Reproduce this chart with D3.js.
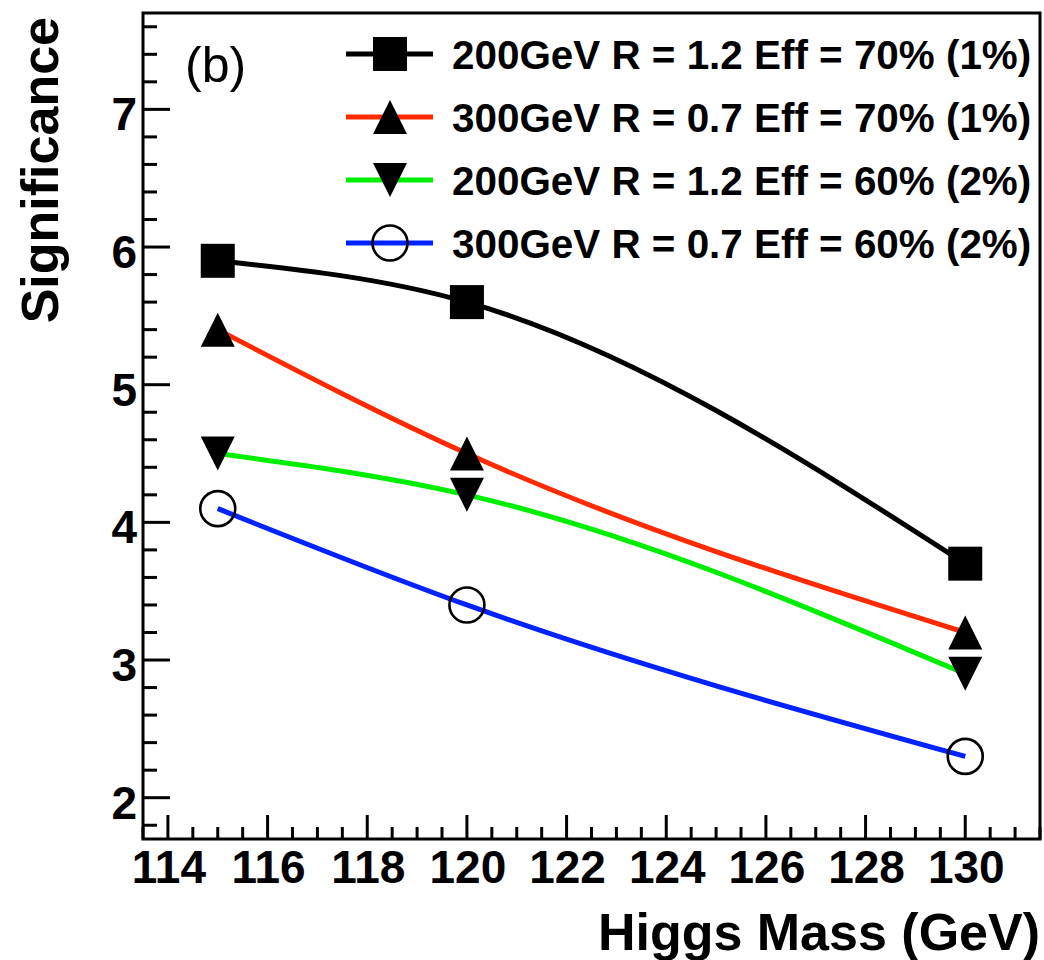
<!DOCTYPE html>
<html>
<head>
<meta charset="utf-8">
<script src="https://cdn.jsdelivr.net/npm/d3@7"></script>
<style>
  html, body { margin: 0; padding: 0; background: #fff; }
  svg { display: block; }
  text { font-family: "Liberation Sans", Arial, Helvetica, sans-serif; }
</style>
</head>
<body>
<div id="chart"></div>
<script>
// ---------------- data ----------------
const higgsMass = [115, 120, 130];
const sig200R12Eff70 = [5.9, 5.6, 3.7];
const sig300R07Eff70 = [5.4, 4.5, 3.2];
const sig200R12Eff60 = [4.5, 4.2, 2.9];
const sig300R07Eff60 = [4.1, 3.4, 2.3];

const seriesLabels = [
  "200GeV R = 1.2 Eff = 70% (1%)",
  "300GeV R = 0.7 Eff = 70% (1%)",
  "200GeV R = 1.2 Eff = 60% (2%)",
  "300GeV R = 0.7 Eff = 60% (2%)"
];
const seriesColors = ["#000000", "#ff2a00", "#00ee00", "#0022ff"];
const seriesMarkers = ["square", "triangleUp", "triangleDown", "openCircle"];
const seriesValues = [sig200R12Eff70, sig300R07Eff70, sig200R12Eff60, sig300R07Eff60];

const xMajorTicks = [114, 116, 118, 120, 122, 124, 126, 128, 130];
const yMajorTicks = [2, 3, 4, 5, 6, 7];
const xDomain = [113.5, 131.5];
const yDomain = [1.7, 7.7];
const xTitle = "Higgs Mass (GeV)";
const yTitle = "Significance";
const panelLabel = "(b)";

// ---------------- layout ----------------
const W = 1044, H = 960;
const frame = { left: 143, right: 1040, top: 13, bottom: 839 };

const svg = d3.select("#chart").append("svg")
  .attr("width", W).attr("height", H);

const x = d3.scaleLinear().domain(xDomain).range([frame.left, frame.right]);
const y = d3.scaleLinear().domain(yDomain).range([frame.bottom, frame.top]);

// minor ticks
const xMinor = d3.range(xDomain[0], xDomain[1] + 0.001, 0.5)
  .filter(v => Math.abs(v - Math.round(v / 2) * 2) > 1e-6);
const yMinor = d3.range(2, 7.7, 0.2).map(v => +v.toFixed(1))
  .concat([1.8])
  .filter(v => Math.abs(v - Math.round(v)) > 1e-6);

const axisG = svg.append("g");
axisG.selectAll(".xmaj").data(xMajorTicks).enter().append("line")
  .attr("x1", d => x(d)).attr("x2", d => x(d))
  .attr("y1", frame.bottom).attr("y2", frame.bottom - 24)
  .attr("stroke", "#000").attr("stroke-width", 3);
axisG.selectAll(".xmin").data(xMinor).enter().append("line")
  .attr("x1", d => x(d)).attr("x2", d => x(d))
  .attr("y1", frame.bottom).attr("y2", frame.bottom - 12)
  .attr("stroke", "#000").attr("stroke-width", 3);
axisG.selectAll(".ymaj").data(yMajorTicks).enter().append("line")
  .attr("x1", frame.left).attr("x2", frame.left + 27)
  .attr("y1", d => y(d)).attr("y2", d => y(d))
  .attr("stroke", "#000").attr("stroke-width", 3);
axisG.selectAll(".ymin").data(yMinor).enter().append("line")
  .attr("x1", frame.left).attr("x2", frame.left + 14)
  .attr("y1", d => y(d)).attr("y2", d => y(d))
  .attr("stroke", "#000").attr("stroke-width", 3);

// tick labels
axisG.selectAll(".xlab").data(xMajorTicks).enter().append("text")
  .attr("x", d => x(d) + 1).attr("y", 883)
  .attr("text-anchor", "middle")
  .attr("font-size", 46).attr("font-weight", "bold")
  .text(d => d);
axisG.selectAll(".ylab").data(yMajorTicks).enter().append("text")
  .attr("x", 137).attr("y", d => y(d) + 21)
  .attr("text-anchor", "end")
  .attr("font-size", 46).attr("font-weight", "bold")
  .text(d => d);

// axis titles
svg.append("text")
  .attr("x", 1040).attr("y", 950)
  .attr("text-anchor", "end")
  .attr("font-size", 52).attr("font-weight", "bold")
  .text(xTitle);
svg.append("text")
  .attr("transform", "translate(58,17) rotate(-90)")
  .attr("text-anchor", "end")
  .attr("font-size", 52).attr("font-weight", "bold")
  .text(yTitle);

// panel label
svg.append("text")
  .attr("x", 185).attr("y", 82)
  .attr("font-size", 50)
  .text(panelLabel);

// ---------------- markers ----------------
const S = 17;
function drawMarker(g, type, cx, cy) {
  if (type === "square") {
    g.append("rect").attr("x", cx - S).attr("y", cy - S)
      .attr("width", 2 * S).attr("height", 2 * S).attr("fill", "#000");
  } else if (type === "triangleUp") {
    g.append("path")
      .attr("d", `M${cx},${cy - S}L${cx + S},${cy + S}L${cx - S},${cy + S}Z`)
      .attr("fill", "#000");
  } else if (type === "triangleDown") {
    g.append("path")
      .attr("d", `M${cx},${cy + S}L${cx + S},${cy - S}L${cx - S},${cy - S}Z`)
      .attr("fill", "#000");
  } else {
    g.append("circle").attr("cx", cx).attr("cy", cy).attr("r", 17.5)
      .attr("fill", "none").attr("stroke", "#000").attr("stroke-width", 2.6);
  }
}

// ---------------- curves ----------------
const line = d3.line()
  .x(d => x(d[0])).y(d => y(d[1]))
  .curve(d3.curveMonotoneX);

const plotG = svg.append("g");
seriesValues.forEach((vals, i) => {
  const pts = higgsMass.map((m, j) => [m, vals[j]]);
  plotG.append("path")
    .attr("d", line(pts))
    .attr("fill", "none")
    .attr("stroke", seriesColors[i])
    .attr("stroke-width", 5);
});
seriesValues.forEach((vals, i) => {
  higgsMass.forEach((m, j) => drawMarker(plotG, seriesMarkers[i], x(m), y(vals[j])));
});

// ---------------- legend ----------------
const legG = svg.append("g");
const legY0 = 54, legDy = 63;
seriesLabels.forEach((lab, i) => {
  const cy = legY0 + i * legDy;
  legG.append("line")
    .attr("x1", 346).attr("x2", 433).attr("y1", cy).attr("y2", cy)
    .attr("stroke", seriesColors[i]).attr("stroke-width", 5);
  drawMarker(legG, seriesMarkers[i], 390, cy);
  legG.append("text")
    .attr("x", 452).attr("y", cy + 15)
    .attr("font-size", 40.4).attr("font-weight", "bold")
    .text(lab);
});

// frame
svg.append("rect")
  .attr("x", frame.left).attr("y", frame.top)
  .attr("width", frame.right - frame.left).attr("height", frame.bottom - frame.top)
  .attr("fill", "none").attr("stroke", "#000").attr("stroke-width", 3);
</script>
</body>
</html>
